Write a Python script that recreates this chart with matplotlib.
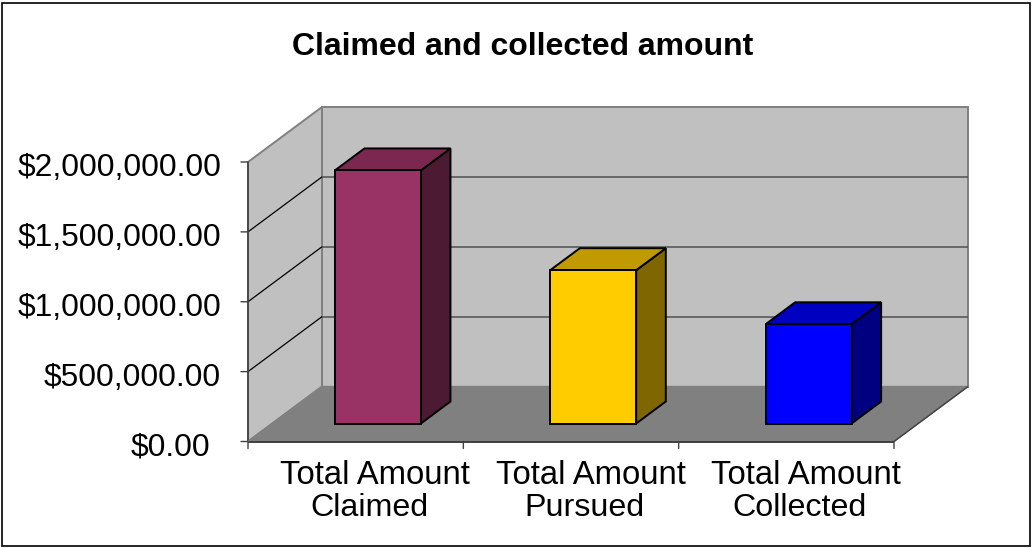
import matplotlib
matplotlib.use("Agg")
import matplotlib.pyplot as plt
from matplotlib.patches import Polygon, Rectangle

# data
categories = ["Total Amount\nClaimed", "Total Amount\nPursued", "Total Amount\nCollected"]
amounts = [1811000, 1097000, 710000]
y_ticks = [0, 500000, 1000000, 1500000, 2000000]
front_colors = ["#993366", "#FFCC00", "#0000FF"]
top_colors = ["#7A2850", "#C09A00", "#0000C0"]
side_colors = ["#4D1A33", "#806600", "#000080"]

W, H = 1034, 548
fig = plt.figure(figsize=(W / 100, H / 100), dpi=100, facecolor="white")
plt.rcParams["font.family"] = ["Liberation Sans", "DejaVu Sans"]

# outer frame
fig.add_artist(Rectangle((2 / W, 1 - 546 / H), 1028 / W, 543 / H, transform=fig.transFigure,
                         fill=False, edgecolor="black", linewidth=1.2))

# front plane of the chart is the axes, the back wall is shifted by depth
left, right, top, bottom = 248, 894, 162, 441.5
ax = fig.add_axes([left / W, 1 - bottom / H, (right - left) / W, (bottom - top) / H])
ax.set_xlim(0, 3)
ax.set_ylim(0, 2000000)
ax.axis("off")

ymax = 2000000
dx = 74 / (right - left) * 3
dy = 55 / (bottom - top) * ymax
grey = "#808080"
dark = "#404040"


def oblique(x, y, d):
    return (x + dx * d, y + dy * d)


def face(points, color, edge, z, lw=1.0):
    ax.add_patch(Polygon(points, closed=True, facecolor=color, edgecolor=edge,
                         linewidth=lw, zorder=z, clip_on=False))


def seg(a, b, color, lw, z=3):
    ax.plot([a[0], b[0]], [a[1], b[1]], color=color, lw=lw, zorder=z, clip_on=False,
            solid_capstyle="butt")


# back wall, side wall, floor
face([oblique(0, 0, 1), oblique(3, 0, 1), oblique(3, ymax, 1), oblique(0, ymax, 1)], "#C0C0C0", grey, 1, 1.4)
face([(0, 0), oblique(0, 0, 1), oblique(0, ymax, 1), (0, ymax)], "#C0C0C0", grey, 1, 1.4)
face([(0, 0), (3, 0), oblique(3, 0, 1), oblique(0, 0, 1)], grey, grey, 1, 1.0)

# gridlines on the walls
for t in y_ticks[1:-1]:
    seg(oblique(0, t, 1), oblique(3, t, 1), "#505050", 1.1, 2)
    seg((0, t), oblique(0, t, 1), "black", 0.9, 2)

# axis lines and ticks
seg((0, 0), (0, ymax), dark, 1.2)
seg((0, 0), (3, 0), dark, 1.4)
seg((3, 0), oblique(3, 0, 1), dark, 1.0)
seg((0, 0), oblique(0, 0, 1), grey, 1.0)

for t in y_ticks:
    # the $0.00 label sits further left in the original
    label_x = -38 if t == 0 else -27
    ax.annotate(f"${t:,.2f}", (0, t), xytext=(label_x, -6), textcoords="offset pixels",
                ha="right", va="center", fontsize=22.9, annotation_clip=False)
    ax.annotate("", (0, t), xytext=(-7, 0), textcoords="offset pixels",
                arrowprops=dict(arrowstyle="-", color=dark, lw=1.0, shrinkA=0, shrinkB=0), annotation_clip=False)
for i in range(4):
    ax.annotate("", (i, 0), xytext=(0, -7), textcoords="offset pixels",
                arrowprops=dict(arrowstyle="-", color=dark, lw=1.0, shrinkA=0, shrinkB=0), annotation_clip=False)
# second line of each label sits a little left of the first in the original
for i, label in enumerate(categories):
    line1, line2 = label.split("\n")
    ax.annotate(line1, (i + 0.5, 0), xytext=(19.5, -18), textcoords="offset pixels",
                ha="center", va="top", fontsize=23.7, annotation_clip=False)
    ax.annotate(line2, (i + 0.5, 0), xytext=(13.5, -52), textcoords="offset pixels",
                ha="center", va="top", fontsize=23.2, annotation_clip=False)

# bars
bar_w = 86 / (right - left) * 3
bar_shift = -2 / (right - left) * 3
d0, d1 = 0.327, 0.727
for i, value in enumerate(amounts):
    x0 = i + 0.5 - bar_w / 2 + bar_shift
    x1 = x0 + bar_w
    face([oblique(x0, 0, d0), oblique(x1, 0, d0), oblique(x1, value, d0), oblique(x0, value, d0)],
         front_colors[i], "black", 6, 1.4)
    face([oblique(x1, 0, d0), oblique(x1, 0, d1), oblique(x1, value, d1), oblique(x1, value, d0)],
         side_colors[i], "black", 5, 1.4)
    face([oblique(x0, value, d0), oblique(x1, value, d0), oblique(x1, value, d1), oblique(x0, value, d1)],
         top_colors[i], "black", 5, 1.4)

fig.text(523 / W, 1 - 47 / H, "Claimed and collected amount", ha="center", va="center",
         fontsize=23, fontweight="bold")

fig.savefig("out.png", dpi=100)
